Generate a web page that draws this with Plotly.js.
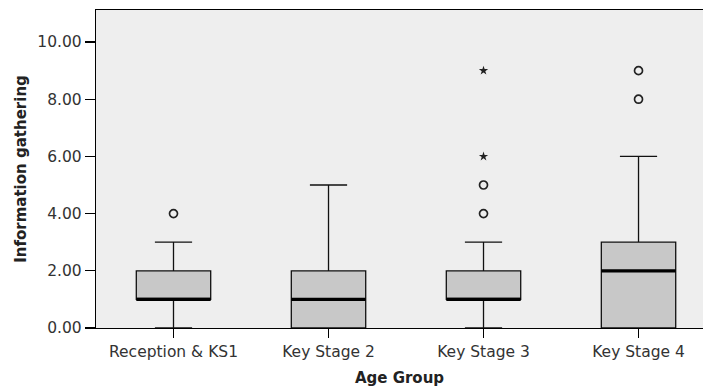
<!DOCTYPE html>
<html>
<head>
<meta charset="utf-8">
<script src="https://cdn.plot.ly/plotly-3.0.1.min.js"></script>
<style>html,body{margin:0;padding:0;background:#fff;}#chart{width:703px;height:387px;}</style>
</head>
<body>
<div id="chart"></div>
<script>
const categories = ["Reception & KS1", "Key Stage 2", "Key Stage 3", "Key Stage 4"];
const lowerWhisker = [0, 0, 0, 0];
const q1 = [1, 0, 1, 0];
const median = [1, 1, 1, 2];
const q3 = [2, 2, 2, 3];
const upperWhisker = [3, 5, 3, 6];
const circleOutlierX = ["Reception & KS1", "Key Stage 3", "Key Stage 3", "Key Stage 4", "Key Stage 4"];
const circleOutlierY = [4, 4, 5, 8, 9];
const extremeOutlierX = ["Key Stage 3", "Key Stage 3"];
const extremeOutlierY = [6, 9];
const yTicks = [0, 2, 4, 6, 8, 10];

const fontFam = "DejaVu Sans, sans-serif";
const traces = [
  {
    type: "box", x: categories, q1: q1, median: median, q3: q3,
    lowerfence: lowerWhisker, upperfence: upperWhisker,
    fillcolor: "#c8c8c8", line: {color: "#111", width: 1.3},
    width: 0.48, whiskerwidth: 0.5, boxpoints: false, showlegend: false, hoverinfo: "skip"
  },
  {
    type: "box", x: categories, q1: median, median: median, q3: median,
    lowerfence: median, upperfence: median,
    fillcolor: "rgba(0,0,0,0)", line: {color: "#000", width: 3.2},
    width: 0.48, whiskerwidth: 0, boxpoints: false, showlegend: false, hoverinfo: "skip"
  },
  {
    type: "scatter", mode: "markers", x: circleOutlierX, y: circleOutlierY,
    marker: {symbol: "circle-open", size: 8, color: "#222", line: {width: 1.7, color: "#222"}},
    showlegend: false, hoverinfo: "skip", cliponaxis: false
  },
  {
    type: "scatter", mode: "markers", x: extremeOutlierX, y: extremeOutlierY,
    marker: {symbol: "star", size: 7, color: "#222", line: {width: 0}},
    showlegend: false, hoverinfo: "skip"
  }
];

const layout = {
  width: 703, height: 387,
  margin: {l: 96, r: 0, t: 10, b: 59},
  paper_bgcolor: "#ffffff",
  plot_bgcolor: "#eeeeee",
  showlegend: false,
  font: {family: fontFam, color: "#333", size: 14},
  xaxis: {
    type: "category", range: [-0.5, 3.416],
    showline: true, linecolor: "#000", linewidth: 1.2, mirror: true,
    ticks: "outside", ticklen: 9, tickcolor: "#000", tickwidth: 1.2,
    showgrid: false, zeroline: false,
    tickfont: {family: fontFam, size: 15.5, color: "#333"},
    title: {text: "Age Group", font: {family: fontFam, size: 15, color: "#222", weight: "bold"}, standoff: 12}
  },
  yaxis: {
    range: [0, 11.12],
    tickvals: yTicks, tickformat: ".2f",
    showline: true, linecolor: "#000", linewidth: 1.2,
    ticks: "outside", ticklen: 10, tickcolor: "#000", tickwidth: 1.2,
    showgrid: false, zeroline: false,
    tickfont: {family: fontFam, size: 15.5, color: "#333"},
    title: {text: "Information gathering", font: {family: fontFam, size: 15, color: "#222", weight: "bold"}, standoff: 7}
  }
};

Plotly.newPlot("chart", traces, layout, {displayModeBar: false, staticPlot: true});
</script>
</body>
</html>
